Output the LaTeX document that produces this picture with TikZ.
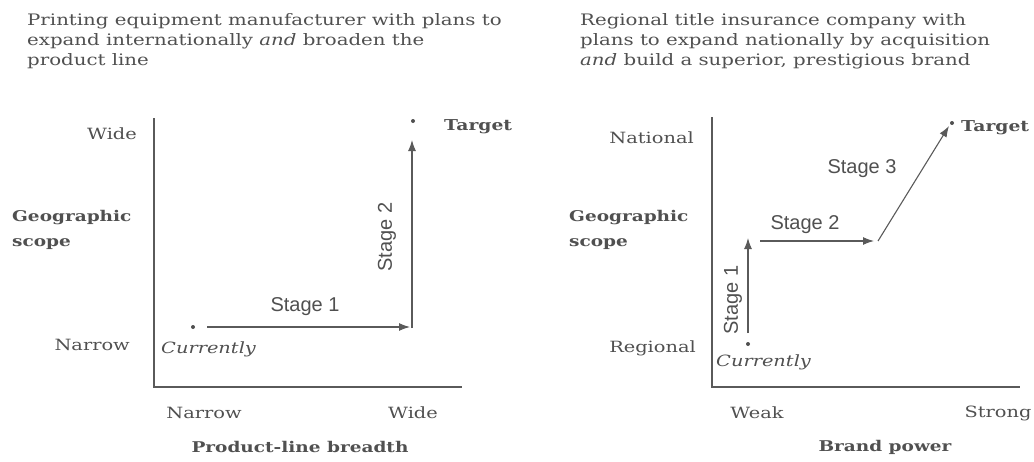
\documentclass[tikz,border=0pt]{standalone}
\usepackage{fontspec}
\setmainfont[FakeStretch=1.25]{DejaVu Serif}
\newfontfamily\stagefont{Liberation Sans}
\usetikzlibrary{arrows.meta}
\definecolor{ink}{HTML}{505050}
\definecolor{lineink}{HTML}{5A5A5A}
\tikzset{
  lbl/.style={inner sep=0pt, text=ink, font=\fontsize{15.5}{20}\selectfont},
  ttl/.style={inner sep=0pt, text=ink, align=left, anchor=north west, font=\fontsize{15.8}{20}\selectfont},
  axlbl/.style={inner sep=0pt, text=ink, font=\bfseries\fontsize{14.8}{25}\selectfont},
  stagelbl/.style={inner sep=0pt, text=ink, font=\stagefont\fontsize{20}{22}\selectfont},
  axis/.style={draw=lineink, line width=1.2pt},
  stagearrow/.style={draw=lineink, line width=1.1pt, -{Latex[length=11pt,width=8pt]}},
  dotmark/.style={circle, fill=ink, inner sep=0pt, minimum size=4pt}
}
\begin{document}
\begin{tikzpicture}[x=1pt,y=-1pt]
\useasboundingbox (0,0) rectangle (1034,461);
% ---------- left panel ----------
\node[ttl] (ltitle) at (27,13) {Printing equipment manufacturer with plans to\\expand internationally \textit{and} broaden the\\product line};
\coordinate (lytop) at (154,118);
\coordinate (lxend) at (462,387);
\draw[axis] (lytop) |- (lxend);
\node[lbl, anchor=east] (lwide) at (137,134) {Wide};
\node[lbl, anchor=east] (lnarrow) at (130,345) {Narrow};
\node[axlbl, anchor=west, align=left] (lgeo) at (12,230) {Geographic\\scope};
\node[dotmark] (lcur) at (193,327) {};
\node[lbl, anchor=west, font=\itshape\fontsize{15.5}{20}\selectfont] (lcurtxt) at (161,349) {Currently};
\coordinate (ls1a) at (207,327);
\coordinate (ls1b) at (410,327);
\draw[stagearrow] (ls1a) -- (ls1b);
\node[stagelbl] (ls1lbl) at (305,307) {Stage 1};
\coordinate (ls2a) at (412,328);
\coordinate (ls2b) at (412,140);
\draw[stagearrow] (ls2a) -- (ls2b);
\node[stagelbl, rotate=90] (ls2lbl) at (387,237) {Stage 2};
\node[dotmark] (ltgt) at (413,121) {};
\node[lbl, anchor=west, font=\bfseries\fontsize{15}{20}\selectfont] (ltgttxt) at (444,127) {Target};
\node[lbl] (lxnarrow) at (204,413) {Narrow};
\node[lbl] (lxwide) at (413,413) {Wide};
\node[axlbl] (lxtitle) at (300,447) {Product-line breadth};
% ---------- right panel ----------
\node[ttl] (rtitle) at (580,13) {Regional title insurance company with\\plans to expand nationally by acquisition\\\textit{and} build a superior, prestigious brand};
\coordinate (rytop) at (712,117);
\coordinate (rxend) at (1020,387);
\draw[axis] (rytop) |- (rxend);
\node[lbl, anchor=east] (rnat) at (694,138) {National};
\node[lbl, anchor=east] (rreg) at (696,348) {Regional};
\node[axlbl, anchor=west, align=left] (rgeo) at (569,230) {Geographic\\scope};
\node[dotmark] (rcur) at (748,344) {};
\node[lbl, anchor=west, font=\itshape\fontsize{15.5}{20}\selectfont] (rcurtxt) at (716,362) {Currently};
\coordinate (rs1a) at (748,333);
\coordinate (rs1b) at (748,238);
\draw[stagearrow] (rs1a) -- (rs1b);
\node[stagelbl, rotate=90] (rs1lbl) at (733,300) {Stage 1};
\coordinate (rs2a) at (760,241);
\coordinate (rs2b) at (874,241);
\draw[stagearrow] (rs2a) -- (rs2b);
\node[stagelbl] (rs2lbl) at (805,225) {Stage 2};
\coordinate (rs3a) at (878,241);
\coordinate (rs3b) at (949,126);
\draw[stagearrow] (rs3a) -- (rs3b);
\node[stagelbl] (rs3lbl) at (862,169) {Stage 3};
\node[dotmark] (rtgt) at (952,123) {};
\node[lbl, anchor=west, font=\bfseries\fontsize{15}{20}\selectfont] (rtgttxt) at (961,128) {Target};
\node[lbl] (rxweak) at (757,413) {Weak};
\node[lbl] (rxstrong) at (998,413) {Strong};
\node[axlbl] (rxtitle) at (885,447) {Brand power};
\end{tikzpicture}
\end{document}
